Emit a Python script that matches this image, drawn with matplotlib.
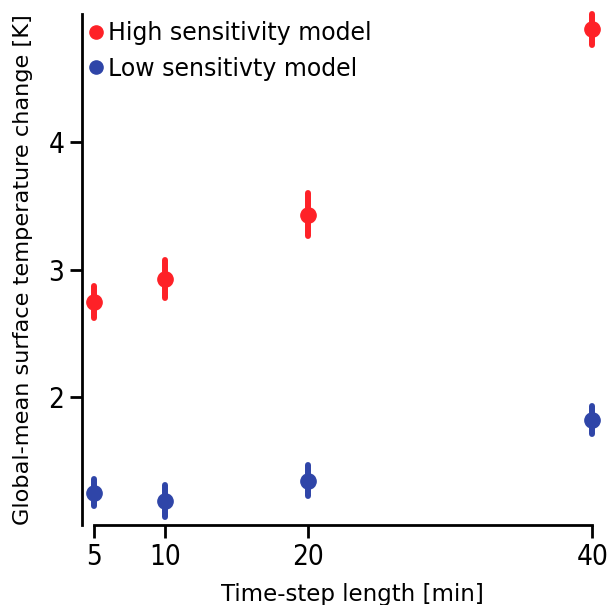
import matplotlib.pyplot as plt
from matplotlib.lines import Line2D

# time-step length [min]
timesteps = [5, 10, 20, 40]

# global-mean surface temperature change [K]
high_mean = [2.745, 2.925, 3.43, 4.88]
high_err = [0.128, 0.15, 0.165, 0.12]

low_mean = [1.253, 1.19, 1.348, 1.82]
low_err = [0.106, 0.125, 0.12, 0.11]

y_ticks = [2, 3, 4]

RED = "#fe2127"
BLUE = "#2f45a8"

plt.rcParams["font.family"] = "DejaVu Sans"

fig = plt.figure(figsize=(6.1, 6.05), dpi=100)
# right edge of the axes sits a little past the figure edge
ax = fig.add_axes([0.134, 0.132, 0.886, 0.845])

handles = []
for mean, err, color, label in [
    (high_mean, high_err, RED, "High sensitivity model"),
    (low_mean, low_err, BLUE, "Low sensitivty model"),
]:
    eb = ax.errorbar(timesteps, mean, yerr=err, fmt="o", color=color,
                     markersize=11, elinewidth=4.3, capsize=0, clip_on=False)
    for lc in eb[2]:
        lc.set_capstyle("round")
        lc.set_clip_on(False)
    handles.append(Line2D([], [], ls="none", marker="o", color=color,
                          markersize=9.5, label=label))

ax.set_xlim(4.13, 42.1)
ax.set_ylim(1, 5)
ax.set_xticks(timesteps)
ax.set_yticks(y_ticks)

ax.spines["top"].set_visible(False)
ax.spines["right"].set_visible(False)
ax.spines["bottom"].set_bounds(5, 40)
for s in ("left", "bottom"):
    ax.spines[s].set_linewidth(2)

ax.tick_params(direction="out", length=9, width=2)
for lab in ax.get_xticklabels() + ax.get_yticklabels():
    lab.set_fontsize(20)
    lab.set_fontstretch("condensed")

ax.set_xlabel("Time-step length [min]", fontsize=16.5, labelpad=9)
ax.set_ylabel("Global-mean surface temperature change [K]", fontsize=16.2,
              labelpad=11)

leg = ax.legend(handles=handles, loc="upper left", frameon=False,
                bbox_to_anchor=(0, 0.994),
                fontsize=17, handletextpad=0.08, handlelength=0.85,
                borderpad=0, borderaxespad=0.19, labelspacing=0.47)

plt.savefig("out.png")
